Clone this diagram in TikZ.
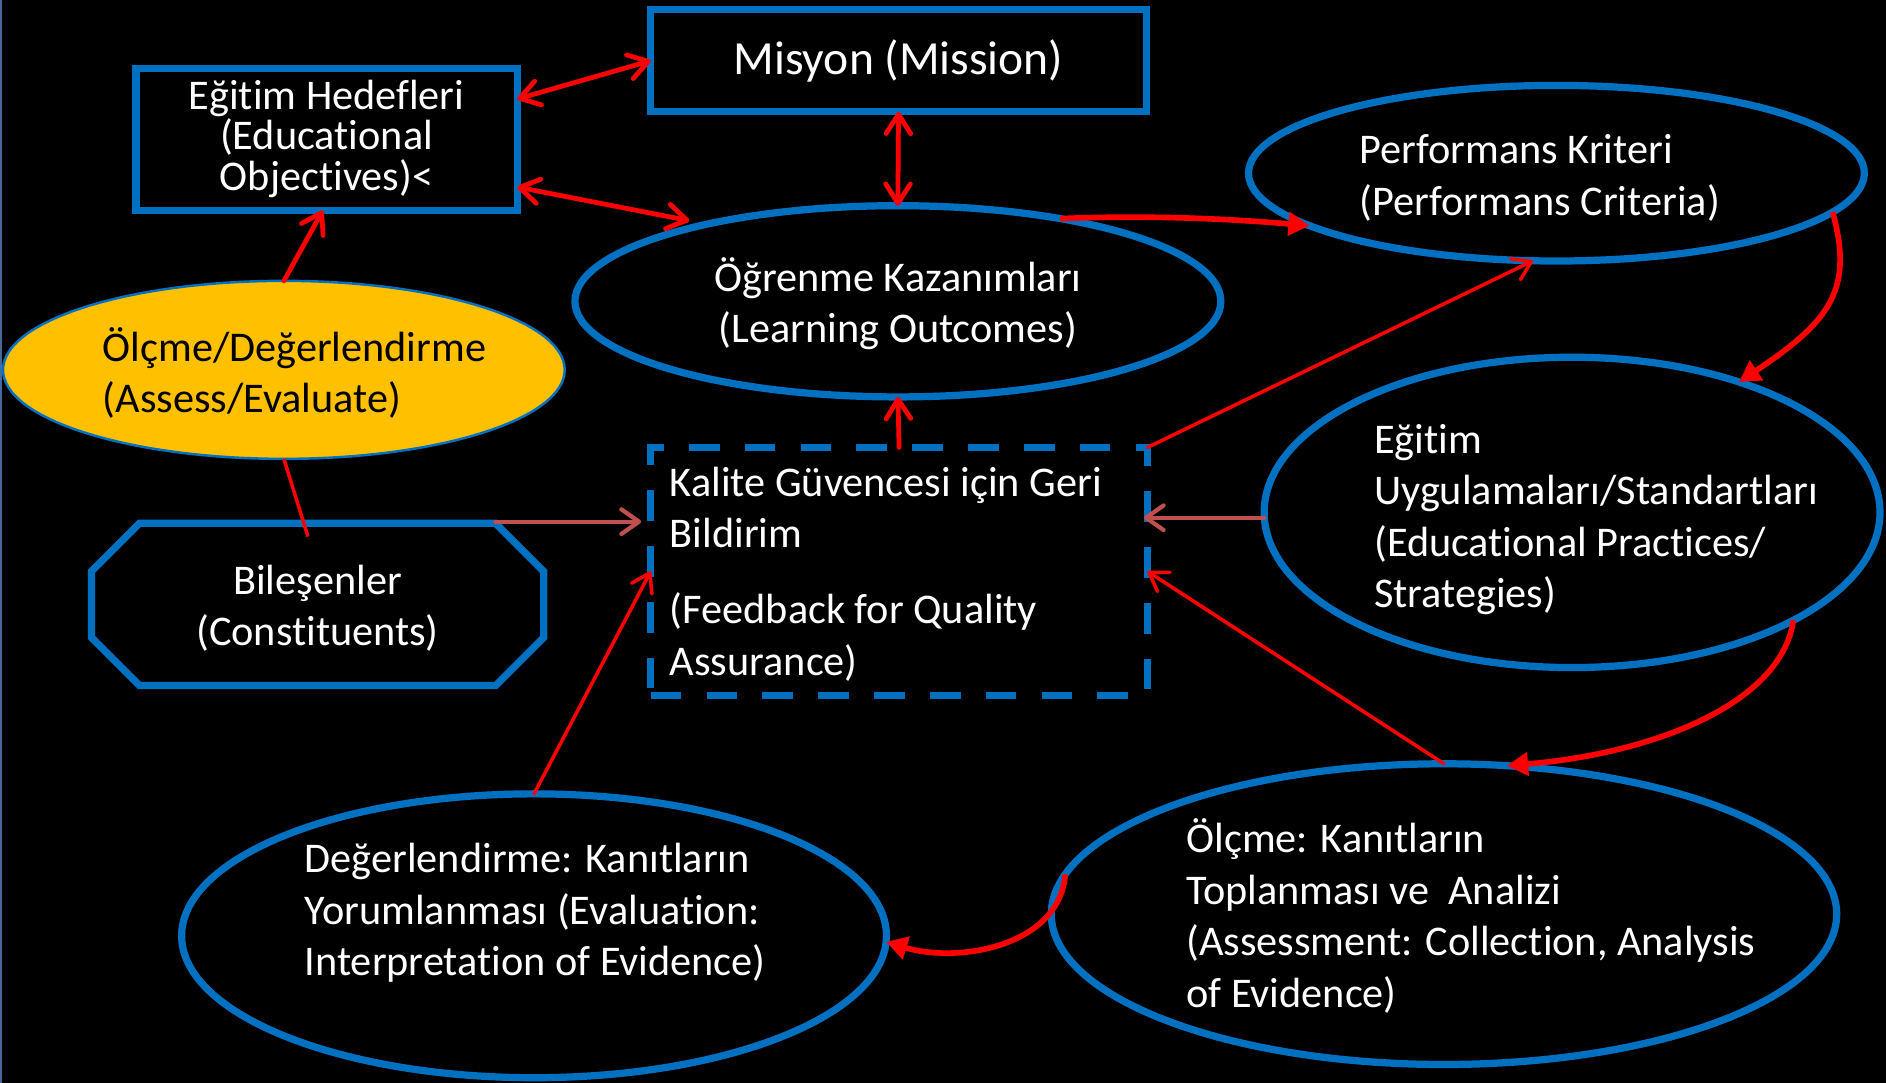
\documentclass[tikz,border=0pt]{standalone}
\usepackage{fontspec}
\setmainfont{Carlito}[Ligatures=NoCommon]
\usetikzlibrary{arrows.meta,calc,shapes.geometric}
\newlength\U \setlength\U{0.024cm}
\definecolor{blu}{HTML}{0070C0}
\definecolor{rd}{HTML}{FF0000}
\definecolor{brn}{HTML}{C0504D}
\definecolor{yel}{HTML}{FFC000}
\definecolor{edgec}{HTML}{46699C}
% zero-size text blocks: left aligned (xoffset of left edge, raise of first baseline) / centred
\newcommand\tbl[3]{\makebox[0pt][l]{\hspace*{#1\U}\raisebox{#2\U}[0pt][0pt]{\begin{tabular}[t]{@{}l@{}}#3\end{tabular}}}}
\newcommand\tbc[2]{\makebox[0pt][c]{\raisebox{#1\U}[0pt][0pt]{\begin{tabular}[t]{@{}c@{}}#2\end{tabular}}}}
\tikzset{
  every node/.style={inner sep=0pt, outer sep=0pt},
  txt/.style={text=white, font=\fontsize{24pt}{29.2pt}\selectfont},
  rbox/.style={rectangle, draw=blu, line width=4.1pt, txt},
  ell/.style={ellipse, draw=blu, line width=4.1pt, txt},
  dbl/.style={draw=rd, line width=2.7pt, line cap=round, {Straight Barb[round, length=11pt, width=14pt]}-{Straight Barb[round, length=11pt, width=14pt]}},
  arr/.style={draw=rd, line width=2.7pt, line cap=round, -{Straight Barb[round, length=11pt, width=14pt]}},
  thinarr/.style={draw=rd, line width=2pt, line cap=round, -{Straight Barb[round, length=10pt, width=13pt]}},
  thinline/.style={draw=rd, line width=2pt},
  brnarr/.style={draw=brn, line width=2.4pt, line cap=round, -{Straight Barb[round, length=10pt, width=14pt]}},
  crv/.style={draw=rd, line width=3.2pt, -{Triangle[length=12pt, width=13pt]}},
}
\begin{document}
\begin{tikzpicture}[x=0.024cm, y=-0.024cm]
\fill[black] (0,0) rectangle (1568,900);
\useasboundingbox (0,0) rectangle (1568,900);
\draw[edgec, line width=1.4pt] (1,0) -- (1,900);

% nodes
\node[rbox, minimum width=412\U, minimum height=85\U, font=\fontsize{27pt}{32pt}\selectfont] (mis) at (747,50.5) {Misyon (Mission)};
\node[rbox, minimum width=317\U, minimum height=118\U] (obj) at (271.5,116) {\tbc{25}{Eğitim Hedefleri\\[-6.3pt](Educational\\[-6.3pt]Objectives)<}};
\node[ell, minimum width=537\U, minimum height=159\U] (lo) at (746.5,250.5) {\tbc{8.5}{Öğrenme Kazanımları\\(Learning Outcomes)}};
\node[ell, minimum width=512\U, minimum height=146\U] (perf) at (1294,144) {\tbl{-163.6}{7.7}{Performans Kriteri\\(Performans Criteria)}};
\node[ellipse, draw=blu, line width=1.4pt, fill=yel, txt, text=black, minimum width=467\U, minimum height=148\U] (assess) at (236,307.5) {\tbl{-150.6}{7}{Ölçme/Değerlendirme\\(Assess/Evaluate)}};
\node[rectangle, draw=blu, line width=4.1pt, dash pattern=on 17.4pt off 14.3pt, txt, minimum width=413\U, minimum height=206\U] (kal) at (747.5,475) {\tbl{-190.5}{62.5}{Kalite Güvencesi için Geri\\Bildirim\\[20.7\U](Feedback for Quality\\Assurance)}};
\node[ell, minimum width=512\U, minimum height=258\U] (pract) at (1307,426) {\tbl{-164.5}{49.2}{Eğitim\\Uygulamaları/Standartları\\(Educational Practices/\\Strategies)}};
\node[rectangle, txt, minimum width=376\U, minimum height=135\U] (const) at (264,502.5) {\tbc{8.2}{Bileşenler\\(Constituents)}};
\draw[blu, line width=4.1pt] ($(const.north west)+(40,0)$) -- ($(const.north east)+(-40,0)$) -- ($(const.north east)+(0,40)$) -- ($(const.south east)+(0,-40)$) -- ($(const.south east)+(-40,0)$) -- ($(const.south west)+(40,0)$) -- ($(const.south west)+(0,-40)$) -- ($(const.north west)+(0,40)$) -- cycle;
\node[ell, minimum width=586\U, minimum height=236\U] (evalu) at (444,778) {\tbl{-190.6}{52.3}{Değerlendirme: Kanıtların\\Yorumlanması (Evaluation:\\Interpretation of Evidence)}};
\node[ell, minimum width=653\U, minimum height=250\U] (meas) at (1200.5,760) {\tbl{-214.1}{50.9}{Ölçme: Kanıtların\\Toplanması ve\ \ Analizi\\(Assessment: Collection, Analysis\\of Evidence)}};

% connectors
\draw[dbl] (obj.12.8) -- (mis.west);
\draw[dbl, shorten >=15\U] (obj.-14.5) -- (lo.158.7);
\draw[dbl] (mis.south) -- (lo.north);
\draw[arr] (assess.north) -- (obj.267.6);
\draw[thinline] (assess.south) -- ($(const.north)+(-8,11)$);
\draw[brnarr] ($(const.north east)+(-40,-1.3)$) -- ($(kal.west|-const.north)+(-8,-1.3)$);
\draw[brnarr] (pract.181.7) -- ($(kal.east|-pract.181.7)+(-3,0)$);
\draw[arr] (kal.north) -- (lo.south);
\draw[thinarr] (kal.north east) -- (perf.255.4);
\draw[crv] (lo.27) .. controls +(70,-3) and +(-70,-6) .. (perf.192.3);
\draw[crv] (perf.-8.8) .. controls +(18,65) and +(75,-50) .. (pract.38.5);
\draw[crv] (pract.-26.8) .. controls +(-10,70) and +(120,-10) .. (meas.67.8);
\draw[thinarr] (meas.north) -- (kal.east);
\draw[crv] (meas.174.8) .. controls +(-5,60) and +(60,18) .. (evalu.-1.8);
\draw[thinarr] (evalu.north) -- (kal.west);
\end{tikzpicture}
\end{document}
